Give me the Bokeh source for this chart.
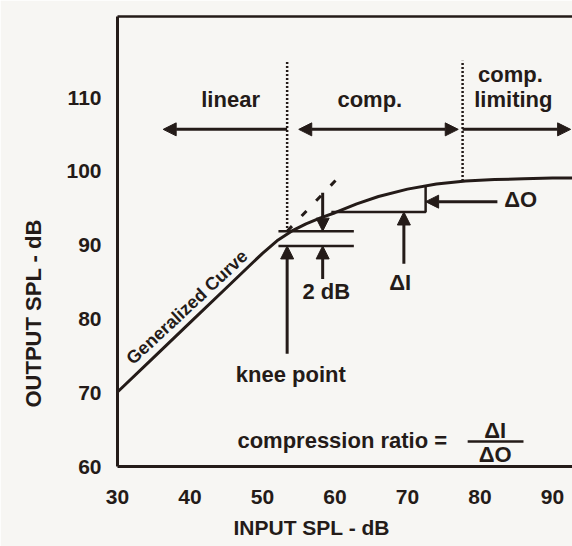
from bokeh.plotting import figure
from bokeh.models import (Range1d, FixedTicker, LinearAxis, Title, Arrow,
                          NormalHead, ColumnDataSource)
from bokeh.core.properties import value
from bokeh.embed import file_html
from bokeh.resources import INLINE

INK = "#241b18"
PAPER = "#f7f6f3"
FONT_NAME = "Liberation Sans"
FONT = value(FONT_NAME)

# Generalized input/output curve of a compression hearing aid (dB SPL)
input_spl = [30, 35, 40, 45, 50, 52, 54, 56, 58, 60, 63, 66, 70, 74, 78, 82, 86, 90, 93]
output_spl = [70.1, 74.8, 79.5, 84.2, 88.9, 90.6, 91.9, 92.9, 93.7, 94.4, 95.6, 96.6,
              97.6, 98.3, 98.7, 98.9, 99.0, 99.1, 99.1]

x_ticks = [30, 40, 50, 60, 70, 80, 90]
y_ticks = [60, 70, 80, 90, 100, 110]

# region boundaries (input dB) and the dotted markers above the curve
boundary_in = [53.4, 77.6]
boundary_top = [114.9, 115.0]
boundary_bottom = [91.8, 98.7]

# linear extension past the knee
extension_in = [53.4, 60.3]
extension_out = [91.9, 99.0]

# region arrows along the top
region_arrow_out = 105.7
linear_arrow_in = [53.4, 36.3]
comp_arrow_in = [55.0, 77.0]
limit_arrow_in = [77.6, 92.5]

# 2 dB deviation marker at the knee
dev_levels = [91.9, 89.9]
dev_span_in = [52.2, 62.6]
dev_arrow_in = 58.3
dev_arrow_tail_low = 85.4
dev_arrow_tail_high = 97.1
knee_arrow_tail = 75.3

# delta-input / delta-output construction
delta_in = [59.5, 72.5]
delta_out = [94.5, 98.0]
delta_o_arrow_in = [82.4, 72.5]
delta_o_arrow_out = 95.9
delta_i_arrow_in = 69.5
delta_i_arrow_out = [87.5, 94.5]

# compression ratio fraction
fraction_in = [78.3, 86.0]
fraction_out = 63.4

# text labels
label_text = ["linear", "comp.", "comp.", "limiting", "2 dB", "knee point",
              "\u0394I", "\u0394O", "compression ratio =", "\u0394I", "\u0394O"]
label_in = [45.6, 64.8, 84.2, 84.6, 58.8, 53.9, 69.0, 85.6, 61.0, 82.1, 82.1]
label_out = [109.8, 109.7, 113.1, 109.7, 83.7, 72.5, 84.9, 96.2, 63.5, 64.9, 61.6]

curve_label = "Generalized Curve"
curve_label_in = 39.6
curve_label_out = 81.6
curve_label_angle = 0.75

p = figure(width=572, height=546, output_backend="svg", toolbar_location=None,
           x_range=Range1d(30, 92.76), y_range=Range1d(60, 121),
           min_border_left=117, min_border_right=0, min_border_top=16,
           min_border_bottom=80, background_fill_color=PAPER,
           border_fill_color=PAPER, outline_line_color=None)
p.grid.visible = False

for ax, ticks in ((p.xaxis[0], x_ticks), (p.yaxis[0], y_ticks)):
    ax.ticker = FixedTicker(ticks=ticks)
    ax.axis_line_color = INK
    ax.axis_line_width = 3
    ax.major_tick_line_color = None
    ax.minor_tick_line_color = None
    ax.major_label_text_font = FONT_NAME
    ax.major_label_text_font_style = "bold"
    ax.major_label_text_font_size = "21px"
    ax.major_label_text_color = INK
p.xaxis.major_label_standoff = 17
p.yaxis.major_label_standoff = 10

top = LinearAxis(axis_line_color=INK, axis_line_width=2.5, major_tick_line_color=None,
                 minor_tick_line_color=None, major_label_text_font_size="0px",
                 ticker=FixedTicker(ticks=[]))
p.add_layout(top, "above")

p.add_layout(Title(text="INPUT SPL - dB", align="left", offset=116, standoff=14,
                   text_font=FONT_NAME, text_font_style="bold", text_font_size="21px",
                   text_color=INK), "below")
p.add_layout(Title(text="OUTPUT SPL - dB", align="left", offset=59, standoff=36,
                   text_font=FONT_NAME, text_font_style="bold", text_font_size="22px",
                   text_color=INK), "left")

# curve
p.line(input_spl, output_spl, line_color=INK, line_width=3)

# dotted boundaries
p.segment(x0=boundary_in, y0=boundary_bottom, x1=boundary_in, y1=boundary_top,
          line_color=INK, line_width=2.5, line_dash="2 2")

# dashed linear extension
p.line(extension_in, extension_out, line_color=INK, line_width=3, line_dash="7 14")

# 2 dB lines
p.segment(x0=[dev_span_in[0]] * 2, y0=dev_levels, x1=[dev_span_in[1]] * 2,
          y1=dev_levels, line_color=INK, line_width=2.5)

# delta triangle sides
p.line([delta_in[0], delta_in[1], delta_in[1]],
       [delta_out[0], delta_out[0], delta_out[1]], line_color=INK, line_width=2.5)

# fraction bar
p.line(fraction_in, [fraction_out] * 2, line_color=INK, line_width=2.5)


def head():
    return NormalHead(size=13, fill_color=INK, line_color=INK, line_width=1)


arrows = [
    (linear_arrow_in[0], region_arrow_out, linear_arrow_in[1], region_arrow_out, False),
    (comp_arrow_in[0], region_arrow_out, comp_arrow_in[1], region_arrow_out, True),
    (limit_arrow_in[0], region_arrow_out, limit_arrow_in[1], region_arrow_out, False),
    (boundary_in[0], knee_arrow_tail, boundary_in[0], dev_levels[1], False),
    (dev_arrow_in, dev_arrow_tail_low, dev_arrow_in, dev_levels[1], False),
    (dev_arrow_in, dev_arrow_tail_high, dev_arrow_in, dev_levels[0], False),
    (delta_o_arrow_in[0], delta_o_arrow_out, delta_o_arrow_in[1], delta_o_arrow_out, False),
    (delta_i_arrow_in, delta_i_arrow_out[0], delta_i_arrow_in, delta_i_arrow_out[1], False),
]
for x0, y0, x1, y1, both in arrows:
    p.add_layout(Arrow(x_start=x0, y_start=y0, x_end=x1, y_end=y1, line_color=INK,
                       line_width=3, end=head(), start=head() if both else None))

labels = ColumnDataSource(dict(x=label_in, y=label_out, text=label_text))
p.text(x="x", y="y", text="text", source=labels, text_font=FONT,
       text_font_style="bold", text_font_size="22px", text_color=INK,
       text_align="center", text_baseline="middle")

p.text(x=[curve_label_in], y=[curve_label_out], text=[curve_label],
       angle=curve_label_angle, text_font=FONT, text_font_style="bold",
       text_font_size="18px", text_color=INK, text_align="center",
       text_baseline="middle")

open("out.html", "w").write(file_html(p, INLINE))
